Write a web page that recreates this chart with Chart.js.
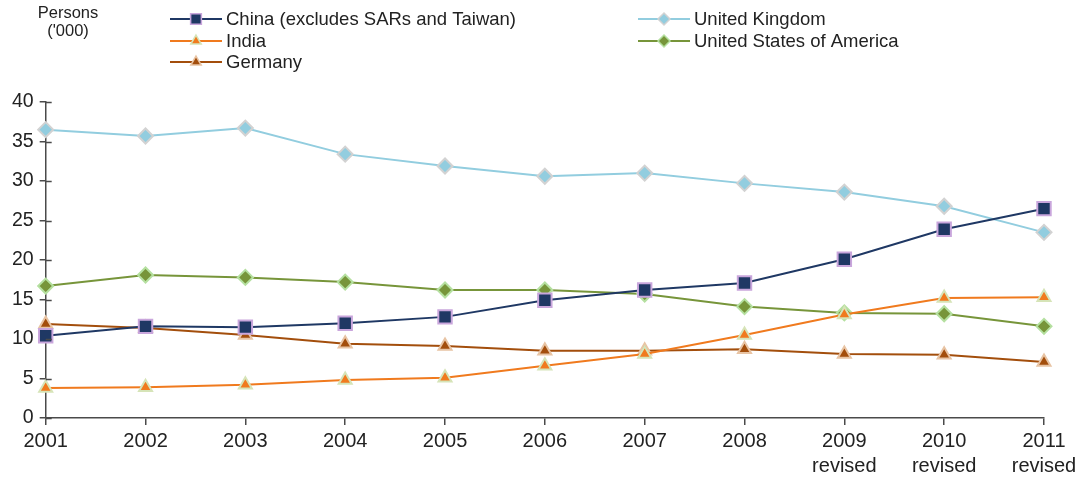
<!DOCTYPE html>
<html lang="en">
<head>
    <meta charset="UTF-8">
    <title>Persons ('000) by country</title>
    <script src="https://cdn.jsdelivr.net/npm/chart.js"></script>
    <style>
        html, body { margin: 0; padding: 0; background: #fff; overflow: hidden; }
        #wrap { position: relative; width: 1077px; height: 477px; }
        #unit {
            position: absolute; left: 18px; top: 3px; width: 100px;
            text-align: center; font: 16.5px "Liberation Sans", Arial, sans-serif;
            color: #222; line-height: 18px;
        }
    </style>
</head>
<body>
    <div id="wrap">
        <canvas id="chart" width="1077" height="477"></canvas>
        <div id="unit">Persons<br>('000)</div>
    </div>
    <script>
        const years = ['2001', '2002', '2003', '2004', '2005', '2006', '2007', '2008',
            ['2009', 'revised'], ['2010', 'revised'], ['2011', 'revised']];
        const china   = [10.4, 11.6, 11.5, 12.0, 12.8, 14.9, 16.2, 17.1, 20.1, 23.9, 26.5];
        const india   = [3.8, 3.9, 4.2, 4.8, 5.1, 6.6, 8.1, 10.5, 13.1, 15.2, 15.3];
        const germany = [11.9, 11.4, 10.5, 9.4, 9.1, 8.5, 8.5, 8.7, 8.1, 8.0, 7.1];
        const uk      = [36.5, 35.7, 36.7, 33.4, 31.9, 30.6, 31.0, 29.7, 28.6, 26.8, 23.5];
        const usa     = [16.7, 18.1, 17.8, 17.2, 16.2, 16.2, 15.7, 14.1, 13.3, 13.2, 11.6];

        const FONT = '"Liberation Sans", Arial, sans-serif';
        const AXIS = '#4a4a4a';

        function series(label, data, color, marker, markerBorder, radius) {
            return {
                label: label, data: data, borderColor: color, backgroundColor: color,
                borderWidth: 2, tension: 0, fill: false,
                pointStyle: marker, pointRadius: radius, pointHoverRadius: radius,
                pointBackgroundColor: color, pointBorderColor: markerBorder, pointBorderWidth: 2
            };
        }

        // legend in two columns like the original
        const legendSlots = [
            { x: 170, y: 19 }, { x: 170, y: 41 }, { x: 170, y: 62 },
            { x: 638, y: 19 }, { x: 638, y: 41 }
        ];
        const legendPlugin = {
            id: 'twoColLegend',
            afterDraw(chart) {
                const ctx = chart.ctx;
                ctx.save();
                chart.data.datasets.forEach((ds, i) => {
                    const s = legendSlots[i];
                    ctx.strokeStyle = ds.borderColor;
                    ctx.lineWidth = 2;
                    ctx.beginPath();
                    ctx.moveTo(s.x, s.y);
                    ctx.lineTo(s.x + 52, s.y);
                    ctx.stroke();
                    ctx.fillStyle = ds.pointBackgroundColor;
                    ctx.strokeStyle = ds.pointBorderColor;
                    ctx.lineWidth = 1.5;
                    Chart.helpers.drawPoint(ctx, { pointStyle: ds.pointStyle, radius: ds.pointRadius * 0.8, borderWidth: 1.5 }, s.x + 26, s.y);
                    ctx.fillStyle = '#222';
                    ctx.font = '18.5px ' + FONT;
                    ctx.textBaseline = 'middle';
                    ctx.fillText(ds.label, s.x + 56, s.y + 1);
                });
                ctx.restore();
            }
        };

        // y ticks in the original cross the axis line
        const innerTicks = {
            id: 'innerTicks',
            afterDatasetsDraw(chart) {
                const y = chart.scales.y, ctx = chart.ctx;
                ctx.save();
                ctx.strokeStyle = AXIS;
                ctx.lineWidth = 1.5;
                y.ticks.forEach(t => {
                    const py = Math.round(y.getPixelForValue(t.value)) + 0.5;
                    ctx.beginPath();
                    ctx.moveTo(y.right, py);
                    ctx.lineTo(y.right + 6, py);
                    ctx.stroke();
                });
                ctx.restore();
            }
        };

        new Chart(document.getElementById('chart'), {
            type: 'line',
            data: {
                labels: years,
                datasets: [
                    series('China (excludes SARs and Taiwan)', china, '#1f3864', 'rect', '#c9a6dc', 9.5),
                    series('India', india, '#f07a1e', 'triangle', '#d6e4b8', 7.5),
                    series('Germany', germany, '#a34e0c', 'triangle', '#e8c4a4', 7.5),
                    series('United Kingdom', uk, '#92cddf', 'rectRot', '#d2d2d2', 7.5),
                    series('United States of America', usa, '#77953a', 'rectRot', '#b5e0a0', 7.5)
                ]
            },
            options: {
                responsive: false,
                animation: false,
                layout: { padding: { top: 102, left: 6, right: 0, bottom: 0 } },
                plugins: { legend: { display: false }, tooltip: { enabled: false } },
                scales: {
                    x: {
                        offset: false,
                        afterFit(scale) { scale.height = 59; scale.paddingRight = 33; },
                        grid: { display: true, drawOnChartArea: false, drawTicks: true, tickLength: 7, color: AXIS, lineWidth: 1.5 },
                        border: { color: AXIS, width: 1.5 },
                        ticks: { color: '#222', font: { size: 20, family: FONT, lineHeight: 1.25 }, maxRotation: 0, autoSkip: false, padding: 4 }
                    },
                    y: {
                        min: 0, max: 40,
                        grid: { display: true, drawOnChartArea: false, drawTicks: true, tickLength: 6, color: AXIS, lineWidth: 1.5 },
                        border: { color: AXIS, width: 1.5 },
                        ticks: { stepSize: 5, color: '#222', font: { size: 19.5, family: FONT }, padding: 6 }
                    }
                }
            },
            plugins: [legendPlugin, innerTicks]
        });
    </script>
</body>
</html>
